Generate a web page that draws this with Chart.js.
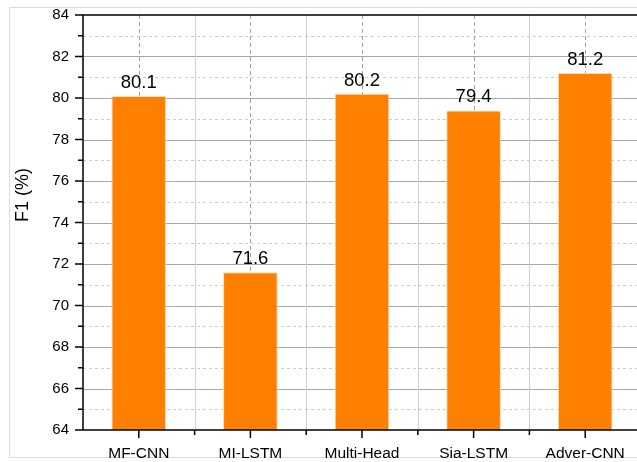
<!DOCTYPE html>
<html>
<head>
<meta charset="utf-8">
<script src="https://cdn.jsdelivr.net/npm/chart.js@4/dist/chart.umd.min.js"></script>
<style>
  html, body { margin: 0; padding: 0; background: #fff; overflow: hidden; }
  #wrap { width: 650px; height: 462px; }
</style>
</head>
<body>
<div id="wrap"><canvas id="mycanvas" width="650" height="462"></canvas></div>
<script>
var models = ['MF-CNN', 'MI-LSTM', 'Multi-Head', 'Sia-LSTM', 'Adver-CNN'];
var f1 = [80.1, 71.6, 80.2, 79.4, 81.2];
var yMin = 64, yMax = 84;

// grid, frame, ticks and value labels drawn by hand (mixed solid/dashed styles)
var decor = {
  id: 'decor',
  beforeDraw: function(chart) {
    var c = chart.ctx;
    c.save();
    c.strokeStyle = '#dcdcdc';
    c.lineWidth = 1;
    c.strokeRect(9.5, 7.5, 700, 450);
    c.restore();
  },
  beforeDatasetsDraw: function(chart) {
    var c = chart.ctx, a = chart.chartArea, x = chart.scales.x, y = chart.scales.y;
    c.save();
    c.lineWidth = 1;
    // horizontal lines
    for (var v = yMin + 1; v < yMax; v++) {
      var py = Math.round(y.getPixelForValue(v)) + 0.5;
      if (v % 2 == 0) { c.setLineDash([]); c.strokeStyle = '#a8a8a8'; }
      else { c.setLineDash([3, 3]); c.strokeStyle = '#cccccc'; }
      c.beginPath(); c.moveTo(a.left, py); c.lineTo(a.right, py); c.stroke();
    }
    // vertical lines
    for (var i = 0; i < models.length; i++) {
      var cx = Math.round(x.getPixelForValue(i)) + 0.5;
      c.setLineDash([4, 3]); c.strokeStyle = '#a0a0a0';
      c.beginPath(); c.moveTo(cx, a.top); c.lineTo(cx, a.bottom); c.stroke();
      if (i > 0) {
        var bx = Math.round((x.getPixelForValue(i) + x.getPixelForValue(i - 1)) / 2) + 0.5;
        c.setLineDash([]); c.strokeStyle = '#cfcfcf';
        c.beginPath(); c.moveTo(bx, a.top); c.lineTo(bx, a.bottom); c.stroke();
      }
    }
    c.restore();
  },
  afterDraw: function(chart) {
    var c = chart.ctx, a = chart.chartArea, x = chart.scales.x, y = chart.scales.y;
    c.save();
    c.strokeStyle = '#000';
    c.lineWidth = 1.5;
    c.setLineDash([]);
    // frame
    c.beginPath();
    c.moveTo(a.left, a.top); c.lineTo(a.right, a.top);
    c.moveTo(a.left, a.bottom); c.lineTo(a.right, a.bottom);
    c.moveTo(a.left, a.top); c.lineTo(a.left, a.bottom);
    c.stroke();
    // y ticks
    for (var v = yMin; v <= yMax; v++) {
      var py = y.getPixelForValue(v);
      var len = v % 2 == 0 ? 8 : 5;
      c.beginPath(); c.moveTo(a.left - len, py); c.lineTo(a.left, py); c.stroke();
    }
    // x ticks
    for (var i = 0; i < models.length; i++) {
      var cx = x.getPixelForValue(i);
      c.beginPath(); c.moveTo(cx, a.bottom); c.lineTo(cx, a.bottom + 8); c.stroke();
      if (i > 0) {
        var bx = (x.getPixelForValue(i) + x.getPixelForValue(i - 1)) / 2;
        c.beginPath(); c.moveTo(bx, a.bottom); c.lineTo(bx, a.bottom + 5); c.stroke();
      }
    }
    // axis title
    c.fillStyle = '#000';
    c.font = '18px "Liberation Sans", Arial, sans-serif';
    c.translate(23, 195);
    c.rotate(-Math.PI / 2);
    c.textAlign = 'center';
    c.textBaseline = 'middle';
    c.fillText('F1 (%)', 0, 0);
    c.restore();
    // value labels
    c.save();
    c.fillStyle = '#000';
    c.font = '18.5px "Liberation Sans", Arial, sans-serif';
    c.textAlign = 'center';
    c.textBaseline = 'alphabetic';
    chart.getDatasetMeta(0).data.forEach(function(bar, i) {
      c.fillText(f1[i].toFixed(1), bar.x, bar.y - 8);
    });
    c.restore();
  }
};

var ctx = document.getElementById('mycanvas');
var barGraph = new Chart(ctx, {
  type: 'bar',
  data: {
    labels: models,
    datasets: [{
      label: 'F1',
      data: f1,
      backgroundColor: '#FF8000',
      borderColor: '#FFDDB8',
      borderWidth: 1,
      barPercentage: 0.49,
      categoryPercentage: 1
    }]
  },
  options: {
    responsive: false,
    animation: false,
    layout: { padding: { top: 15, right: 9, left: 0, bottom: 0 } },
    plugins: { legend: { display: false }, tooltip: { enabled: false } },
    scales: {
      x: {
        grid: { display: false, drawTicks: false },
        border: { display: false },
        ticks: { color: '#000', padding: 14, font: { size: 15.5, family: '"Liberation Sans", Arial, sans-serif' } },
        afterFit: function(s) { s.height = 32; s.paddingLeft = 0; s.paddingRight = 0; }
      },
      y: {
        min: yMin,
        max: yMax,
        grid: { display: false, drawTicks: false },
        border: { display: false },
        ticks: {
          stepSize: 2,
          color: '#000',
          padding: 14,
          font: { size: 15, family: '"Liberation Sans", Arial, sans-serif' }
        },
        afterFit: function(s) { s.width = 83; s.paddingTop = 0; s.paddingBottom = 0; }
      }
    }
  },
  plugins: [decor]
});
</script>
</body>
</html>
